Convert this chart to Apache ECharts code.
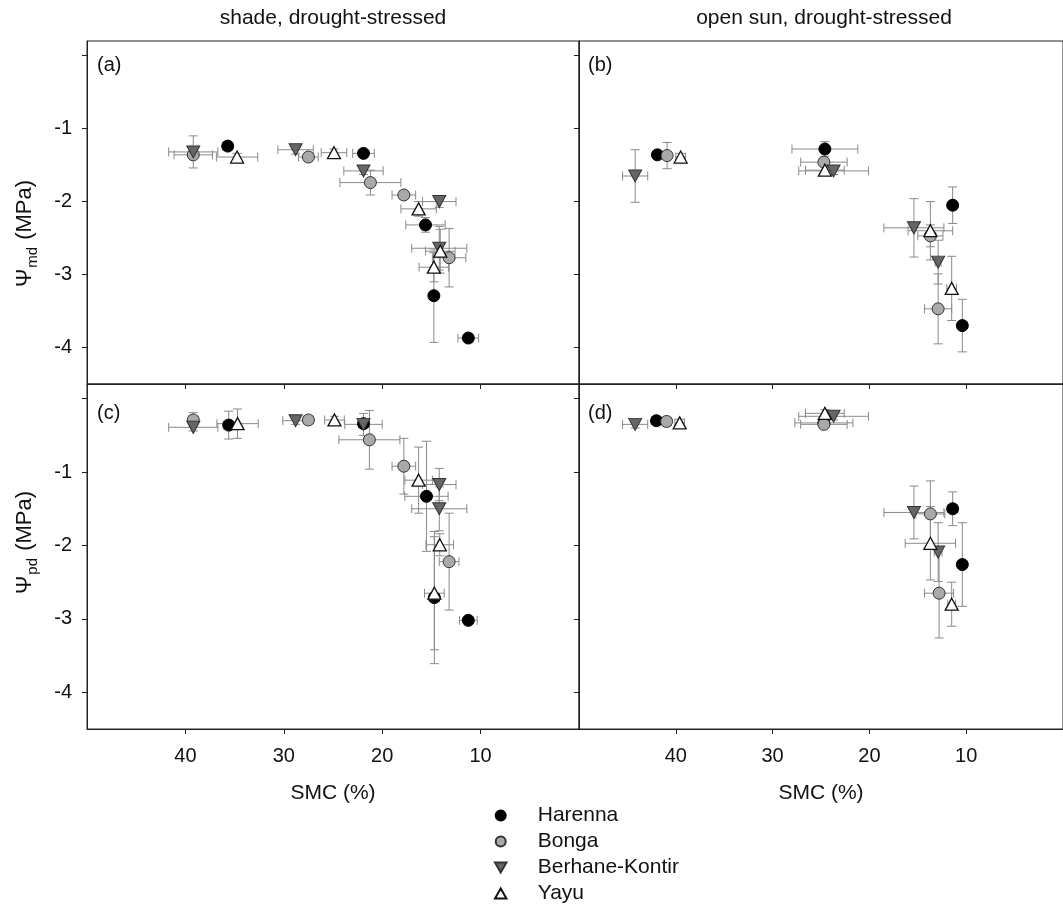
<!DOCTYPE html>
<html>
<head>
<meta charset="utf-8">
<script src="https://cdn.jsdelivr.net/npm/echarts@6/dist/echarts.min.js"></script>
<style>
  html, body { margin: 0; padding: 0; background: #fff; overflow: hidden; }
  #chart { width: 1063px; height: 907px; }
</style>
</head>
<body>
<div id="chart"></div>
<script>
// Sites (legend order)
const SITES = ['Harenna', 'Bonga', 'Berhane-Kontir', 'Yayu'];

// Each row: [SMC (%), water potential (MPa), SMC SE, potential SE]
// (a) shade, drought-stressed – midday potential
const harennaA = [[35.7, -1.24, 0.5, 0.05], [21.9, -1.34, 1.1, 0.05], [15.6, -2.32, 2.0, 0.10], [14.75, -3.29, 0.3, 0.64], [11.25, -3.87, 1.05, 0.05]];
const bongaA   = [[39.2, -1.36, 1.95, 0.05], [27.5, -1.39, 1.0, 0.05], [21.2, -1.74, 3.1, 0.17], [17.8, -1.91, 1.2, 0.05], [13.2, -2.77, 1.7, 0.40]];
const berhaneA = [[39.2, -1.32, 2.5, 0.22], [28.8, -1.29, 1.8, 0.06], [21.9, -1.58, 2.0, 0.05], [14.2, -2.0, 1.7, 0.08], [14.2, -2.64, 2.8, 0.30]];
const yayuA    = [[34.75, -1.39, 2.1, 0.05], [24.9, -1.33, 1.3, 0.05], [16.3, -2.1, 1.8, 0.10], [14.1, -2.68, 1.5, 0.30], [14.75, -2.9, 1.5, 0.20]];

// (b) open sun, drought-stressed – midday potential
const harennaB = [[41.9, -1.36, 0.4, 0.05], [24.6, -1.28, 3.4, 0.10], [11.4, -2.05, 0.4, 0.25], [10.4, -3.70, 0.2, 0.36]];
const bongaB   = [[40.9, -1.37, 0.4, 0.18], [24.7, -1.46, 2.4, 0.05], [13.7, -2.47, 1.3, 0.15], [12.9, -3.47, 1.4, 0.48]];
const berhaneB = [[44.2, -1.65, 1.3, 0.36], [23.7, -1.58, 3.6, 0.05], [15.4, -2.36, 3.1, 0.40], [12.9, -2.83, 0.3, 0.30]];
const yayuB    = [[39.5, -1.39, 0.5, 0.05], [24.6, -1.57, 2.0, 0.05], [13.7, -2.40, 2.3, 0.40], [11.5, -3.19, 0.5, 0.44]];

// (c) shade, drought-stressed – predawn potential
const harennaC = [[35.6, -0.36, 0.5, 0.19], [21.9, -0.34, 0.5, 0.05], [15.5, -1.33, 2.2, 0.75], [14.7, -2.71, 0.5, 0.90], [11.25, -3.02, 0.9, 0.05]];
const bongaC   = [[39.2, -0.29, 0.5, 0.10], [27.5, -0.29, 0.5, 0.05], [21.3, -0.56, 3.1, 0.40], [17.8, -0.92, 1.2, 0.38], [13.2, -2.22, 1.0, 0.66]];
const berhaneC = [[39.2, -0.39, 2.5, 0.05], [28.8, -0.30, 1.3, 0.05], [21.9, -0.35, 1.9, 0.15], [14.2, -1.17, 1.7, 0.22], [14.2, -1.5, 2.8, 0.30]];
const yayuC    = [[34.7, -0.34, 2.1, 0.20], [24.85, -0.29, 1.0, 0.05], [16.3, -1.11, 1.4, 0.45], [14.15, -1.99, 1.4, 0.15], [14.7, -2.65, 1.0, 0.77]];

// (d) open sun, drought-stressed – predawn potential
const harennaD = [[42.0, -0.30, 0.5, 0.05], [24.7, -0.33, 3.0, 0.05], [11.4, -1.5, 0.5, 0.23], [10.4, -2.26, 0.3, 0.57]];
const bongaD   = [[40.95, -0.31, 0.5, 0.05], [24.7, -0.35, 2.4, 0.05], [13.7, -1.57, 1.5, 0.45], [12.8, -2.65, 1.5, 0.61]];
const berhaneD = [[44.2, -0.35, 1.3, 0.05], [23.7, -0.24, 3.6, 0.05], [15.4, -1.55, 3.1, 0.36], [12.9, -2.09, 0.4, 0.40]];
const yayuD    = [[39.6, -0.33, 0.5, 0.05], [24.6, -0.2, 2.0, 0.05], [13.7, -1.97, 2.6, 0.50], [11.5, -2.8, 0.4, 0.30]];

// Axis ticks and labels
const smcTicks = [10, 20, 30, 40];
const psiTicks = [0, -1, -2, -3, -4];
const psiLabels = [-1, -2, -3, -4];

const panelTitles = ['shade, drought-stressed', 'open sun, drought-stressed'];
const panelTags = ['(a)', '(b)', '(c)', '(d)'];

const panels = [
  [harennaA, bongaA, berhaneA, yayuA],
  [harennaB, bongaB, berhaneB, yayuB],
  [harennaC, bongaC, berhaneC, yayuC],
  [harennaD, bongaD, berhaneD, yayuD]
];

const FONT = 'Liberation Sans, Arial, sans-serif';
const INK = '#111';

const grids = [
  { left: 87, top: 41, width: 492, height: 343 },
  { left: 579, top: 41, width: 491, height: 343 },
  { left: 87, top: 384, width: 492, height: 345 },
  { left: 579, top: 384, width: 491, height: 345 }
].map(g => Object.assign({ show: true, borderColor: '#222', borderWidth: 1, containLabel: false }, g));

const markerStyles = [
  { symbol: 'circle', symbolSize: 12, itemStyle: { color: '#000', borderColor: '#000', borderWidth: 1, opacity: 1 } },
  { symbol: 'circle', symbolSize: 12, itemStyle: { color: '#a9a9a9', borderColor: '#333', borderWidth: 1, opacity: 1 } },
  { symbol: 'path://M0,0 L12,0 L6,10.5 Z', symbolSize: [13, 12], itemStyle: { color: '#666', borderColor: '#333', borderWidth: 1, opacity: 1 } },
  { symbol: 'path://M6,0 L12,10.5 L0,10.5 Z', symbolSize: [13, 12], itemStyle: { color: '#fff', borderColor: '#111', borderWidth: 1.3, opacity: 1 } }
];

function renderErrorBars(params, api) {
  const x = api.value(0), y = api.value(1), xe = api.value(2), ye = api.value(3);
  const c = api.coord([x, y]);
  const l = api.coord([x - xe, y]);
  const r = api.coord([x + xe, y]);
  const t = api.coord([x, y + ye]);
  const b = api.coord([x, y - ye]);
  const cap = 4.5;
  const style = { stroke: '#8a8a8a', lineWidth: 1, fill: null };
  const children = [];
  const seg = (x1, y1, x2, y2) => children.push({ type: 'line', shape: { x1, y1, x2, y2 }, style });
  if (xe > 0) {
    seg(l[0], c[1], r[0], c[1]);
    seg(l[0], c[1] - cap, l[0], c[1] + cap);
    seg(r[0], c[1] - cap, r[0], c[1] + cap);
  }
  if (ye > 0) {
    seg(c[0], t[1], c[0], b[1]);
    seg(c[0] - cap, t[1], c[0] + cap, t[1]);
    seg(c[0] - cap, b[1], c[0] + cap, b[1]);
  }
  return { type: 'group', children };
}

const xAxes = grids.map((g, i) => ({
  type: 'value', gridIndex: i, min: 0, max: 50, inverse: true, position: 'bottom',
  axisLine: { show: true, onZero: false, lineStyle: { color: '#222', width: 1 } },
  axisTick: { show: true, inside: false, length: 5, customValues: smcTicks, lineStyle: { color: '#222' } },
  axisLabel: { show: i >= 2, customValues: smcTicks, margin: 17, fontSize: 20, color: INK, fontFamily: FONT },
  splitLine: { show: false },
  name: i >= 2 ? 'SMC (%)' : '',
  nameLocation: 'middle', nameGap: 54,
  nameTextStyle: { fontSize: 21, color: INK, fontFamily: FONT }
}));

const yNames = ['{a|Ψ}{b|md}{a| (MPa)}', '', '{a|Ψ}{b|pd}{a| (MPa)}', ''];
const yPads = [[0, 42, 0, 0], 0, [0, 0, 0, 28], 0];
const yAxes = grids.map((g, i) => ({
  type: 'value', gridIndex: i, min: -4.5, max: 0.2, position: 'left',
  axisLine: { show: true, onZero: false, lineStyle: { color: '#222', width: 1 } },
  axisTick: { show: true, inside: false, length: 5, customValues: psiTicks, lineStyle: { color: '#222' } },
  axisLabel: { show: i % 2 === 0, customValues: psiLabels, margin: 15, fontSize: 20, color: INK, fontFamily: FONT },
  splitLine: { show: false },
  name: yNames[i],
  nameLocation: 'middle', nameGap: 50,
  nameTextStyle: {
    color: INK, fontFamily: FONT, fontSize: 22, padding: yPads[i],
    rich: {
      a: { fontSize: 22, lineHeight: 24, color: INK, fontFamily: FONT },
      b: { fontSize: 15, lineHeight: 15, padding: [12, 1, 0, 1], verticalAlign: 'top', color: INK, fontFamily: FONT }
    }
  }
}));

const series = [];
panels.forEach((sets, i) => {
  sets.forEach((rows) => {
    series.push({
      type: 'custom', xAxisIndex: i, yAxisIndex: i, data: rows,
      encode: { x: 0, y: 1 }, renderItem: renderErrorBars, silent: true, z: 1
    });
  });
  sets.forEach((rows, j) => {
    series.push(Object.assign({
      type: 'scatter', name: SITES[j], xAxisIndex: i, yAxisIndex: i, data: rows,
      encode: { x: 0, y: 1 }, z: 2
    }, markerStyles[j]));
  });
});

const graphics = [];
panelTitles.forEach((t, k) => {
  graphics.push({
    type: 'text', x: k === 0 ? 333 : 824, y: 18,
    style: { text: t, fontSize: 21, fontFamily: FONT, fill: INK, align: 'center', verticalAlign: 'middle' }
  });
});
panelTags.forEach((t, k) => {
  graphics.push({
    type: 'text', x: k % 2 === 0 ? 97 : 588, y: k < 2 ? 65 : 413,
    style: { text: t, fontSize: 20, fontFamily: FONT, fill: INK, align: 'left', verticalAlign: 'middle' }
  });
});

const chart = echarts.init(document.getElementById('chart'), null, { renderer: 'canvas' });
chart.setOption({
  animation: false,
  backgroundColor: '#fff',
  textStyle: { fontFamily: FONT },
  grid: grids,
  xAxis: xAxes,
  yAxis: yAxes,
  legend: {
    data: SITES, orient: 'vertical', left: 494, top: 805, height: 140, padding: 0,
    itemWidth: 64, itemHeight: 10, itemGap: 5,
    selectedMode: false,
    textStyle: { fontSize: 21, lineHeight: 20, color: INK, fontFamily: FONT }
  },
  graphic: graphics,
  series: series
});
</script>
</body>
</html>
